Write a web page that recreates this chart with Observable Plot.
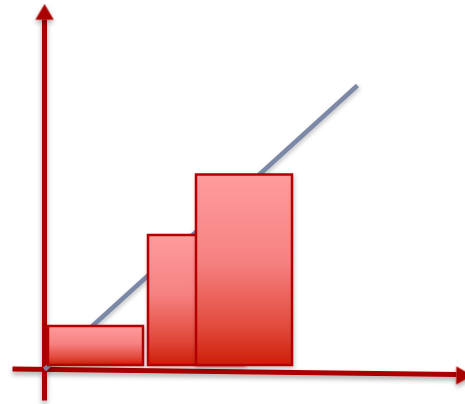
<!DOCTYPE html>
<html>
<head>
<meta charset="utf-8">
<script src="https://cdn.jsdelivr.net/npm/d3@7"></script>
<script src="https://cdn.jsdelivr.net/npm/@observablehq/plot@0.6"></script>
<style>
  html, body { margin: 0; padding: 0; background: #ffffff; }
  #chart svg { display: block; }
</style>
</head>
<body>
<div id="chart"></div>
<script>
// Three step bars: left edge, right edge, base and top (units from the origin)
const barLeft   = [4, 104, 152];
const barRight  = [99, 200, 248];
const barBase   = [4, 4, 4];
const barTop    = [43, 134, 194.5];

// Straight trend line from the origin
const trendX = [0, 313];
const trendY = [0, 284];

// Axis shafts (start and end points) and arrowhead positions
const axisX1 = [0, -32];
const axisY1 = [-31, 0.5];
const axisX2 = [0, 412];
const axisY2 = [350, -5];
const headX = [0, 417];
const headY = [355, -6];
const headRotate = [0, 90.6];

const bars = barLeft.map((x1, i) => ({x1, x2: barRight[i], y1: barBase[i], y2: barTop[i]}));
const trend = trendX.map((x, i) => ({x, y: trendY[i]}));
const axes = axisX1.map((x1, i) => ({x1, y1: axisY1[i], x2: axisX2[i], y2: axisY2[i]}));
const heads = headX.map((x, i) => ({x, y: headY[i], rotate: headRotate[i]}));

const axisColor = "#ab0000";

// gradient for the bars and a soft drop shadow
function defs() {
  const ns = "http://www.w3.org/2000/svg";
  const d = document.createElementNS(ns, "defs");
  d.innerHTML = `
    <linearGradient id="barFill" x1="0" y1="0" x2="0" y2="1">
      <stop offset="0" stop-color="#ff9c9c"/>
      <stop offset="0.45" stop-color="#f68282"/>
      <stop offset="0.8" stop-color="#e24a3c"/>
      <stop offset="1" stop-color="#cc1e08"/>
    </linearGradient>
    <filter id="shadow" x="-20%" y="-20%" width="140%" height="140%">
      <feDropShadow dx="0" dy="3" stdDeviation="2.5" flood-color="#000" flood-opacity="0.35"/>
    </filter>
    <filter id="shadowSoft" x="-20%" y="-20%" width="140%" height="140%">
      <feDropShadow dx="1" dy="2" stdDeviation="2" flood-color="#000" flood-opacity="0.25"/>
    </filter>`;
  return d;
}

const chart = Plot.plot({
  width: 465,
  height: 404,
  margin: 0,
  style: {background: "#ffffff", overflow: "visible"},
  x: {axis: null, domain: [-44, 421]},
  y: {axis: null, domain: [-35, 369]},
  marks: [
    defs,
    Plot.link(axes, {x1: "x1", y1: "y1", x2: "x2", y2: "y2", stroke: axisColor, strokeWidth: 5, strokeLinecap: "butt", className: "axes"}),
    Plot.dot(heads, {x: "x", y: "y", rotate: "rotate", symbol: "triangle", r: 6.8, fill: axisColor, stroke: "none", className: "axes"}),
    Plot.line(trend, {x: "x", y: "y", stroke: "#7b88a5", strokeWidth: 4.5, strokeLinecap: "butt", className: "trend"}),
    Plot.rect(bars, {x1: "x1", x2: "x2", y1: "y1", y2: "y2", fill: "url(#barFill)", stroke: "#b40000", strokeWidth: 2.5, className: "bars"})
  ]
});

chart.querySelectorAll(".axes").forEach(g => g.setAttribute("filter", "url(#shadow)"));
chart.querySelectorAll(".trend").forEach(g => g.setAttribute("filter", "url(#shadowSoft)"));
chart.querySelectorAll(".bars rect").forEach(r => r.setAttribute("filter", "url(#shadowSoft)"));

document.getElementById("chart").append(chart);
</script>
</body>
</html>
